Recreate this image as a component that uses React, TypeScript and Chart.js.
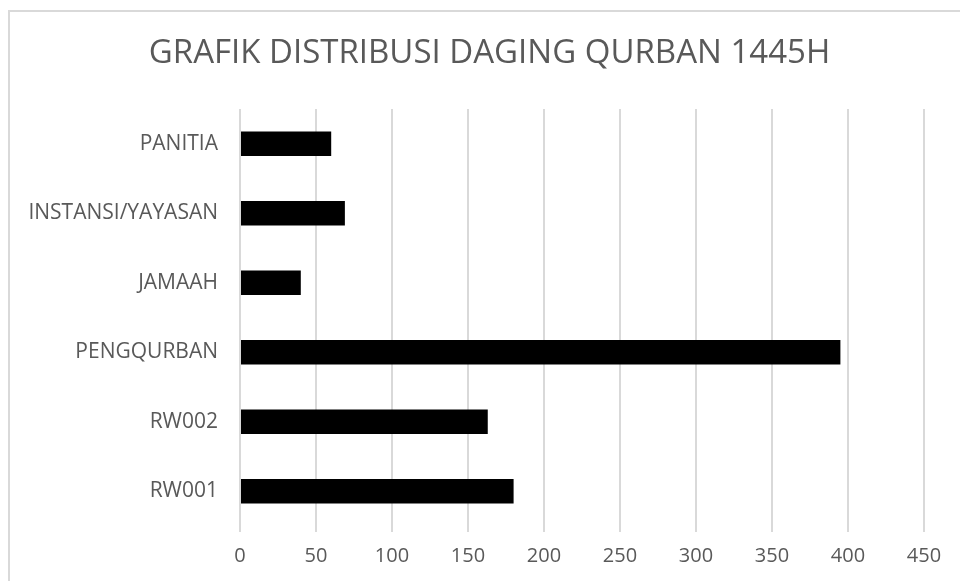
import React, { useEffect, useRef } from "react";
import { Chart, registerables } from "chart.js";

Chart.register(...registerables);

const TITLE = "GRAFIK DISTRIBUSI DAGING QURBAN 1445H";
const categories = ["PANITIA", "INSTANSI/YAYASAN", "JAMAAH", "PENGQURBAN", "RW002", "RW001"];
const values = [60, 69, 40, 395, 163, 180];
const xMin = 0;
const xMax = 450;
const xStep = 50;

const FONT = "'Open Sans', 'Noto Sans', sans-serif";
const TEXT_COLOR = "#595959";
const GRID_COLOR = "#d9d9d9";

const titlePlugin = {
  id: "boxTitle",
  afterDraw(chart: any) {
    const ctx = chart.ctx;
    ctx.save();
    ctx.fillStyle = TEXT_COLOR;
    ctx.font = `normal 33px ${FONT}`;
    ctx.textAlign = "center";
    ctx.textBaseline = "middle";
    // centred on the chart box (which spans past the right edge of the view)
    const cx = (chart.chartArea.right + 55) / 2;
    ctx.fillText(TITLE, cx, 54);
    ctx.restore();
  },
};

export default function App() {
  const canvasRef = useRef<HTMLCanvasElement | null>(null);

  useEffect(() => {
    const canvas = canvasRef.current;
    if (!canvas) return;
    const chart = new Chart(canvas, {
      type: "bar",
      data: {
        labels: categories,
        datasets: [
          {
            data: values,
            backgroundColor: "#000000",
            borderWidth: 0,
            categoryPercentage: 1,
            barPercentage: 0.35,
          },
        ],
      },
      options: {
        indexAxis: "y",
        responsive: false,
        animation: false,
        devicePixelRatio: 1,
        layout: { padding: { left: 0, right: 55, top: 109, bottom: 1 } },
        plugins: {
          legend: { display: false },
          tooltip: { enabled: false },
          title: { display: false },
        },
        scales: {
          x: {
            min: xMin,
            max: xMax,
            ticks: {
              stepSize: xStep,
              color: TEXT_COLOR,
              font: { family: FONT, size: 20 },
              padding: 12,
              maxRotation: 0,
            },
            grid: { color: GRID_COLOR, lineWidth: 2, tickLength: 6, drawTicks: true },
            border: { display: false },
          },
          y: {
            ticks: {
              color: TEXT_COLOR,
              font: { family: FONT, size: 21 },
              padding: 22,
            },
            grid: { display: false, drawTicks: false },
            border: { display: false },
            afterFit: (scale: any) => {
              scale.width = 240;
            },
          },
        },
      },
      plugins: [titlePlugin],
    });
    return () => chart.destroy();
  }, []);

  return (
    <div
      style={{
        position: "fixed",
        left: 0,
        top: 0,
        width: 960,
        height: 581,
        overflow: "hidden",
        background: "#ffffff",
      }}
    >
      <div
        style={{
          position: "absolute",
          left: 8,
          top: 10,
          width: 1000,
          height: 700,
          border: `2px solid ${GRID_COLOR}`,
          boxSizing: "border-box",
        }}
      />
      <canvas
        ref={canvasRef}
        width={979}
        height={581}
        style={{ position: "absolute", left: 0, top: 0, width: 979, height: 581 }}
      />
    </div>
  );
}
